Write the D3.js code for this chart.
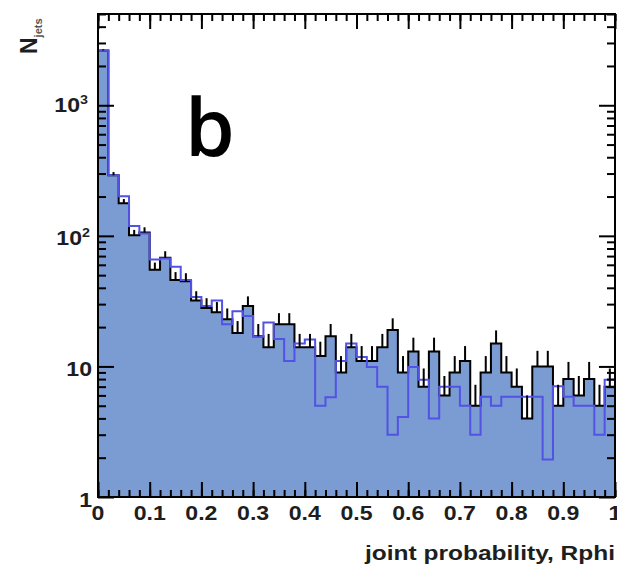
<!DOCTYPE html>
<html>
<head>
<meta charset="utf-8">
<script src="https://d3js.org/d3.v7.min.js"></script>
<style>
body { margin: 0; background: #fff; overflow: hidden; }
text { font-family: "Liberation Sans", Arial, sans-serif; font-weight: bold; fill: #1e1e1e; }
</style>
</head>
<body>
<div id="chart"></div>
<script>
// histogram: 50 bins of width 0.02 over [0,1]
var binWidth = 0.02;
var dataCounts = [2630, 291, 178, 101, 106, 55, 68, 46, 45, 32,
                  28, 26, 23, 18, 29, 17, 14, 21, 21, 14,
                  14, 12, 17, 9, 14, 11, 11, 14, 19, 9,
                  13, 7, 13, 6, 9, 11, 5, 9, 15, 9,
                  7, 4, 10, 10, 5, 8, 6, 8, 5, 7];
var mcCounts = [2630, 291, 201, 119, 104, 66, 67, 58, 46, 34,
                29, 32, 21, 26.5, 24.3, 16.9, 21.7, 16.2, 11, 15,
                16.1, 5, 5.8, 11, 15, 11.8, 9.9, 7, 3, 4.1,
                9.9, 7.9, 4, 7, 7, 5, 3, 5.85, 5, 5.85,
                5.85, 5.85, 5.85, 1.94, 7.06, 5.85, 5, 5, 3, 7.9];
var xTicks = [0, 0.1, 0.2, 0.3, 0.4, 0.5, 0.6, 0.7, 0.8, 0.9, 1];
var xTickLabels = ["0", "0.1", "0.2", "0.3", "0.4", "0.5", "0.6", "0.7", "0.8", "0.9", "1"];
var yMajor = [1, 10, 100, 1000];
var yTickBase = ["1", "10", "10", "10"];
var yTickExp = ["", "", "2", "3"];

var width = 617, height = 573;
var mLeft = 98, mRight = 615, mTop = 14, mBottom = 497;

var svg = d3.select("#chart").append("svg")
	.attr("width", width)
	.attr("height", height);

var x = d3.scaleLinear().domain([0, 1]).range([mLeft, mRight]);
var y = d3.scaleLog().domain([1, 5000]).range([mBottom, mTop]);

svg.append("clipPath").attr("id", "clip")
	.append("rect")
	.attr("x", mLeft).attr("y", mTop)
	.attr("width", mRight - mLeft).attr("height", mBottom - mTop);

var plot = svg.append("g").attr("clip-path", "url(#clip)");

// points for step curves, extra point closes the last bin
function steps(vals){
	var pts = vals.map(function(v, i){ return [i * binWidth, v]; });
	pts.push([vals.length * binWidth, vals[vals.length - 1]]);
	return pts;
}

var area = d3.area().curve(d3.curveStepAfter)
	.x(function(d){ return x(d[0]); })
	.y0(mBottom)
	.y1(function(d){ return y(d[1]); });

var line = d3.line().curve(d3.curveStepAfter)
	.x(function(d){ return x(d[0]); })
	.y(function(d){ return y(d[1]); });

plot.append("path")
	.attr("d", area(steps(dataCounts)))
	.style("fill", "#7b9bd3");

plot.append("path")
	.attr("d", line(steps(dataCounts)))
	.style("fill", "none")
	.style("stroke", "#000")
	.style("stroke-width", 2);

plot.append("path")
	.attr("d", line(steps(mcCounts)))
	.style("fill", "none")
	.style("stroke", "#5252e4")
	.style("stroke-width", 2);

// upper error bars sqrt(N)
plot.selectAll("line.err")
	.data(dataCounts).enter()
	.append("line")
	.attr("class", "err")
	.attr("x1", function(d, i){ return x((i + 0.5) * binWidth); })
	.attr("x2", function(d, i){ return x((i + 0.5) * binWidth); })
	.attr("y1", function(d){ return y(d); })
	.attr("y2", function(d){ return y(d + Math.sqrt(d)); })
	.style("stroke", "#000")
	.style("stroke-width", 2);

// ticks
var xMinor = d3.range(0, 1.0001, 0.02);
var yMinor = [];
[1, 10, 100, 1000].forEach(function(p){
	for (var k = 2; k <= 9; k++) if (k * p <= 5000) yMinor.push(k * p);
});

function tickAxis(axis, tr, vals, size){
	var g = svg.append("g").attr("transform", tr)
		.call(axis.tickValues(vals).tickSize(-size).tickSizeOuter(0).tickFormat(""));
	g.select(".domain").remove();
	g.selectAll("line").style("stroke", "#000").style("stroke-width", 2);
}

tickAxis(d3.axisBottom(x), "translate(0," + mBottom + ")", xMinor, 7);
tickAxis(d3.axisBottom(x), "translate(0," + mBottom + ")", xTicks, 15);
tickAxis(d3.axisTop(x), "translate(0," + mTop + ")", xMinor, 7);
tickAxis(d3.axisTop(x), "translate(0," + mTop + ")", xTicks, 15);
tickAxis(d3.axisLeft(y), "translate(" + mLeft + ",0)", yMinor, 8);
tickAxis(d3.axisLeft(y), "translate(" + mLeft + ",0)", yMajor, 16);
tickAxis(d3.axisRight(y), "translate(" + mRight + ",0)", yMinor, 8);
tickAxis(d3.axisRight(y), "translate(" + mRight + ",0)", yMajor, 16);

svg.append("rect")
	.attr("x", mLeft).attr("y", mTop)
	.attr("width", mRight - mLeft).attr("height", mBottom - mTop)
	.style("fill", "none")
	.style("stroke", "#000")
	.style("stroke-width", 2);

// tick labels (slightly stretched like the original)
xTicks.forEach(function(t, i){
	svg.append("text")
		.attr("transform", "translate(" + x(t) + ",520) scale(1.1,1)")
		.attr("text-anchor", "middle")
		.style("font-size", "21px")
		.text(xTickLabels[i]);
});

var yLabelEnd = [92, 92, 90, 88];
var yLabelBase = [507, 376, 245, 112];
yMajor.forEach(function(t, i){
	var tx = svg.append("text")
		.attr("transform", "translate(" + yLabelEnd[i] + "," + yLabelBase[i] + ") scale(1.1,1)")
		.attr("text-anchor", "end")
		.style("font-size", "21px");
	tx.append("tspan").text(yTickBase[i]);
	if (yTickExp[i]) {
		tx.append("tspan").attr("dy", -8).style("font-size", "13px").text(yTickExp[i]);
	}
});

// axis titles
svg.append("text")
	.attr("x", 365).attr("y", 560)
	.attr("textLength", 250)
	.attr("lengthAdjust", "spacingAndGlyphs")
	.style("font-size", "21px")
	.text("joint probability, Rphi");

var ytitle = svg.append("text")
	.attr("transform", "translate(37,54) rotate(-90)")
	.style("font-size", "23px");
ytitle.append("tspan").text("N");
ytitle.append("tspan").attr("dy", 5).style("font-size", "11px").style("fill", "#555").text("jets");

svg.append("text")
	.attr("x", 185).attr("y", 156)
	.style("font-family", "'Open Sans', sans-serif")
	.style("font-weight", 600)
	.style("font-size", "80px")
	.style("fill", "#000")
	.text("b");
</script>
</body>
</html>
